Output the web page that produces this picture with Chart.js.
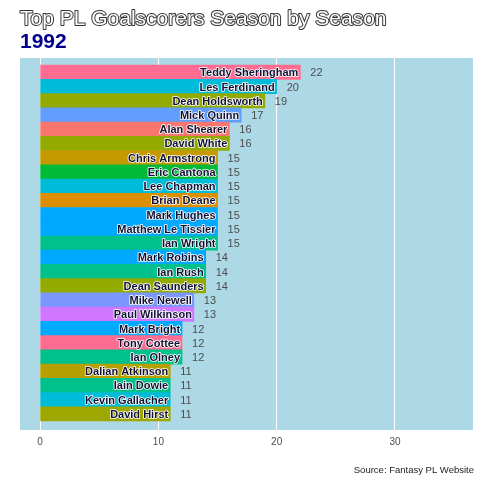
<!DOCTYPE html>
<html><head><meta charset="utf-8">
<script src="https://cdn.jsdelivr.net/npm/chart.js@4"></script>
<style>html,body{margin:0;padding:0;background:#fff}#w{width:480px;height:480px}</style>
</head><body><div id="w"><canvas id="c" width="480" height="480"></canvas></div>
<script>
const titleText = "Top PL Goalscorers Season by Season";
const seasonText = "1992";
const sourceText = "Source: Fantasy PL Website";
const players = ["Teddy Sheringham","Les Ferdinand","Dean Holdsworth","Mick Quinn","Alan Shearer","David White","Chris Armstrong","Eric Cantona","Lee Chapman","Brian Deane","Mark Hughes","Matthew Le Tissier","Ian Wright","Mark Robins","Ian Rush","Dean Saunders","Mike Newell","Paul Wilkinson","Mark Bright","Tony Cottee","Ian Olney","Dalian Atkinson","Iain Dowie","Kevin Gallacher","David Hirst"];
const goals = [22,20,19,17,16,16,15,15,15,15,15,15,15,14,14,14,13,13,12,12,12,11,11,11,11];
const barColors = ["#FF6C91","#00BCD8","#93AA00","#619CFF","#F8766D","#93AA00","#C49A00","#00BA38","#00BCD8","#DB8E00","#00A9FF","#00A9FF","#00C08B","#00A9FF","#00C08B","#93AA00","#7997FF","#CF78FF","#00ABFD","#FF6C91","#00C08B","#B79F00","#00C08B","#00BCD8","#9DA700"];
const xTicks = [0,10,20,30];

const panelPlugin = {
  id:'panel',
  beforeDraw(chart){
    const {ctx, chartArea:a} = chart;
    ctx.save();
    ctx.fillStyle = '#ADD8E6';
    ctx.fillRect(a.left, a.top, a.right-a.left, a.bottom-a.top);
    ctx.restore();
  },
  afterDraw(chart){
    const ctx = chart.ctx;
    ctx.save();
    ctx.textBaseline = 'alphabetic';
    ctx.textAlign = 'left';
    ctx.font = '21px "Liberation Sans", Arial, sans-serif';
    ctx.lineJoin = 'round';
    ctx.strokeStyle = '#333333';
    ctx.lineWidth = 2;
    ctx.strokeText(titleText, 20, 25);
    ctx.fillStyle = '#ffffff';
    ctx.fillText(titleText, 20, 25);
    ctx.font = 'bold 21px "Liberation Sans", Arial, sans-serif';
    ctx.fillStyle = '#00008B';
    ctx.fillText(seasonText, 20, 48);
    ctx.font = '9.5px "Liberation Sans", Arial, sans-serif';
    ctx.textAlign = 'right';
    ctx.strokeStyle = '#ffffff';
    ctx.lineWidth = 1.5;
    ctx.strokeText(sourceText, 474, 473);
    ctx.fillStyle = '#222222';
    ctx.fillText(sourceText, 474, 473);
    ctx.restore();
  },
  afterDatasetsDraw(chart){
    const ctx = chart.ctx;
    const meta = chart.getDatasetMeta(0);
    ctx.save();
    ctx.textBaseline = 'middle';
    meta.data.forEach((bar, i) => {
      ctx.font = 'bold 11px "Liberation Sans", Arial, sans-serif';
      ctx.textAlign = 'right';
      ctx.lineJoin = 'round';
      ctx.strokeStyle = '#ffffff';
      ctx.lineWidth = 1.6;
      ctx.strokeText(players[i], bar.x - 2, bar.y + 1);
      ctx.fillStyle = '#111133';
      ctx.fillText(players[i], bar.x - 2, bar.y + 1);
      ctx.font = '11px "Liberation Sans", Arial, sans-serif';
      ctx.textAlign = 'left';
      ctx.fillStyle = '#4D4D4D';
      ctx.fillText(String(goals[i]), bar.x + 10, bar.y + 1);
    });
    ctx.restore();
  }
};

new Chart(document.getElementById('c'), {
  type:'bar',
  data:{
    datasets:[{
      data: goals.map((g,i)=>({x:g, y:i+1})),
      backgroundColor: barColors,
      borderWidth:0,
      barPercentage:1,
      categoryPercentage:1
    }]
  },
  options:{
    indexAxis:'y',
    responsive:false,
    animation:false,
    layout:{padding:{left:20,right:7,top:58,bottom:28}},
    plugins:{legend:{display:false},tooltip:{enabled:false},title:{display:false}},
    scales:{
      x:{
        type:'linear', min:-1.7, max:36.6,
        afterBuildTicks(s){ s.ticks = xTicks.map(v=>({value:v})); },
        afterFit(s){ s.height = 22; },
        grid:{color:'#ffffff', lineWidth:1, drawTicks:false},
        border:{display:false},
        ticks:{color:'#4D4D4D', font:{size:10, family:'"Liberation Sans", Arial, sans-serif'}, padding:6, maxRotation:0}
      },
      y:{
        type:'linear', reverse:true, min:0, max:26.13, offset:false,
        display:false
      }
    }
  },
  plugins:[panelPlugin]
});
</script></body></html>
